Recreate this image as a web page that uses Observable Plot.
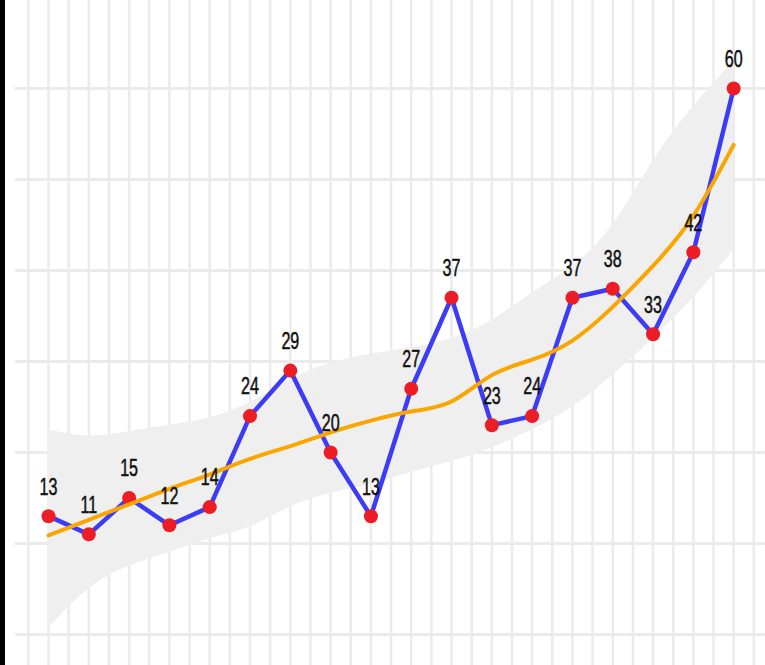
<!DOCTYPE html>
<html>
<head>
<meta charset="utf-8">
<script src="https://cdn.jsdelivr.net/npm/d3@7"></script>
<script src="https://cdn.jsdelivr.net/npm/@observablehq/plot@0.6"></script>
<style>
  html, body { margin: 0; padding: 0; background: #fff; }
  #wrap { display: flex; width: 765px; height: 665px; overflow: hidden; }
  #bar { width: 5px; height: 665px; background: #000; flex: none; }
  #chart { flex: none; }
</style>
</head>
<body>
<div id="wrap"><div id="bar"></div><div id="chart"></div></div>
<script>
// Data
const positions = [1,2,3,4,5,6,7,8,9,10,11,12,13,14,15,16,17,18];
const values = [13,11,15,12,14,24,29,20,13,27,37,23,24,37,38,33,42,60];
const smoothFit = [10.9,12.6,14.3,16.0,17.6,19.3,20.7,22.2,23.5,24.5,25.6,28.5,30.2,32.3,36.0,40.5,46.0,53.8];
const bandUpper = [22.5,21.8,22.3,23.0,23.8,25.5,28.0,29.8,30.8,31.5,32.5,34.5,37.5,40.5,45.0,52.0,58.0,63.0];
const bandLower = [0.7,5.0,7.5,9.0,10.5,11.8,14.0,15.5,16.5,17.8,19.0,20.5,22.5,25.0,28.5,32.5,37.0,42.2];
const yGrid = [0,10,20,30,40,50,60];
const xGrid = d3.range(0.5, 18.51, 0.5);

const data = positions.map((p, i) => ({
  x: p, v: values[i], fit: smoothFit[i], lo: bandLower[i], hi: bandUpper[i]
}));

const chart = Plot.plot({
  width: 760,
  height: 665,
  marginLeft: 10,
  marginRight: 0,
  marginTop: 0,
  marginBottom: 0,
  x: { domain: [0.181, 18.79], axis: null },
  y: { domain: [-3.41, 69.67], axis: null },
  style: { background: "#fff", fontFamily: "'Liberation Sans', Arial, sans-serif" },
  marks: [
    Plot.ruleX(xGrid, { x: d => d, stroke: "#ebebeb", strokeWidth: 2.5 }),
    Plot.ruleY(yGrid, { y: d => d, stroke: "#ebebeb", strokeWidth: 3 }),
    Plot.areaY(data, { x: "x", y1: "lo", y2: "hi", fill: "#efefef", curve: "natural" }),
    Plot.line(data, { x: "x", y: "v", stroke: "#3c3cf6", strokeWidth: 4.5 }),
    Plot.dot(data, { x: "x", y: "v", r: 7, fill: "#ec1d24", stroke: "none" }),
    Plot.line(data, { x: "x", y: "fit", stroke: "#f9a602", strokeWidth: 4, curve: "natural" }),
    Plot.text(data, { x: "x", y: "v", text: d => String(d.v), dy: -29, fontSize: 23, fill: "#111", stroke: "#111", strokeWidth: 0.5 })
  ]
});
document.getElementById("chart").appendChild(chart);

// condense the label glyphs horizontally, like the reference's narrow font
d3.select(chart).selectAll("g[aria-label='text'] text").each(function () {
  const t = d3.select(this);
  const x = t.attr("x"), y = t.attr("y");
  if (x != null && y != null) {
    t.attr("x", null).attr("y", null)
     .attr("transform", `translate(${x},${y}) scale(0.7,1)`);
  } else {
    const tr = t.attr("transform") || "";
    t.attr("transform", tr + " scale(0.7,1)");
  }
});
</script>
</body>
</html>
